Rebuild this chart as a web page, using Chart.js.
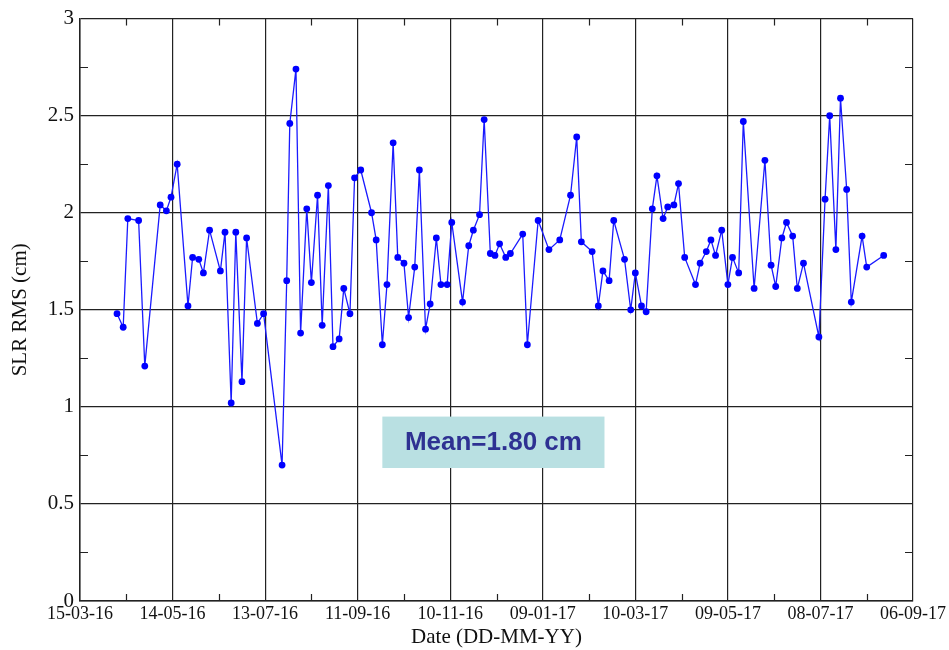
<!DOCTYPE html>
<html>
<head>
<meta charset="utf-8">
<title>SLR RMS</title>
<script src="https://cdn.jsdelivr.net/npm/chart.js@4.4.0/dist/chart.umd.min.js"></script>
<style>
    html, body { margin: 0; padding: 0; background: #fff; }
</style>
</head>
<body>
<canvas id="rmsChart" width="949" height="650"></canvas>
<script>
// Start of the time axis (15-03-16); x values are days after it
const START_DATE = new Date(2016, 2, 15);

// Days after START_DATE for each SLR solution
const dayOffsets = [
    24, 28, 31, 38, 42, 52, 56, 59, 63, 70, 73, 77, 80, 84, 91, 94, 98, 101, 105, 108,
    115, 119, 131, 134, 136, 140, 143, 147, 150, 154, 157, 161, 164, 168, 171, 175, 178, 182, 189, 192,
    196, 199, 203, 206, 210, 213, 217, 220, 224, 227, 231, 234, 238, 241, 248, 252, 255, 259, 262, 266,
    269, 272, 276, 279, 287, 290, 297, 304, 311, 318, 322, 325, 332, 336, 339, 343, 346, 353, 357, 360,
    364, 367, 371, 374, 378, 381, 385, 388, 392, 399, 402, 406, 409, 412, 416, 420, 423, 427, 430, 437,
    444, 448, 451, 455, 458, 462, 465, 469, 479, 483, 486, 490, 493, 497, 500, 507, 510, 521
];

// SLR RMS values (cm)
const rmsValues = [
    1.48, 1.41, 1.97, 1.96, 1.21, 2.04, 2.01, 2.08, 2.25, 1.52, 1.77, 1.76, 1.69, 1.91, 1.70, 1.90, 1.02, 1.90, 1.13, 1.87,
    1.43, 1.48, 0.70, 1.65, 2.46, 2.74, 1.38, 2.02, 1.64, 2.09, 1.42, 2.14, 1.31, 1.35, 1.61, 1.48, 2.18, 2.22, 2.00, 1.86,
    1.32, 1.63, 2.36, 1.77, 1.74, 1.46, 1.72, 2.22, 1.40, 1.53, 1.87, 1.63, 1.63, 1.95, 1.54, 1.83, 1.91, 1.99, 2.48, 1.79,
    1.78, 1.84, 1.77, 1.79, 1.89, 1.32, 1.96, 1.81, 1.86, 2.09, 2.39, 1.85, 1.80, 1.52, 1.70, 1.65, 1.96, 1.76, 1.50, 1.69,
    1.52, 1.49, 2.02, 2.19, 1.97, 2.03, 2.04, 2.15, 1.77, 1.63, 1.74, 1.80, 1.86, 1.78, 1.91, 1.63, 1.77, 1.69, 2.47, 1.61,
    2.27, 1.73, 1.62, 1.87, 1.95, 1.88, 1.61, 1.74, 1.36, 2.07, 2.50, 1.81, 2.59, 2.12, 1.54, 1.88, 1.72, 1.78
];

// Axis ranges and tick spacing
const xRange = [0, 540];
const xMajorStep = 60;
const xMinorStep = 30;
const yRange = [0, 3];
const yMajorStep = 0.5;
const yMinorStep = 0.25;

const meanLabel = 'Mean=1.80 cm';

const SERIF = '"Liberation Serif", "Times New Roman", serif';

function formatDay(offset) {
    const d = new Date(START_DATE.getFullYear(), START_DATE.getMonth(), START_DATE.getDate() + Math.round(offset));
    const dd = String(d.getDate()).padStart(2, '0');
    const mm = String(d.getMonth() + 1).padStart(2, '0');
    const yy = String(d.getFullYear()).slice(-2);
    return `${dd}-${mm}-${yy}`;
}

// Inward minor tick marks on all four sides of the plot frame
const minorTicks = {
    id: 'minorTicks',
    afterDraw(chart) {
        const { ctx, chartArea: a, scales: { x, y } } = chart;
        ctx.save();
        ctx.strokeStyle = '#222';
        ctx.lineWidth = 1.2;
        ctx.beginPath();
        for (let v = xRange[0] + xMinorStep; v < xRange[1]; v += xMajorStep) {
            const px = Math.round(x.getPixelForValue(v)) + 0.5;
            ctx.moveTo(px, a.bottom); ctx.lineTo(px, a.bottom - 7);
            ctx.moveTo(px, a.top); ctx.lineTo(px, a.top + 7);
        }
        for (let v = yRange[0] + yMinorStep; v < yRange[1]; v += yMajorStep) {
            const py = Math.round(y.getPixelForValue(v)) + 0.5;
            ctx.moveTo(a.left, py); ctx.lineTo(a.left + 8, py);
            ctx.moveTo(a.right, py); ctx.lineTo(a.right - 8, py);
        }
        ctx.stroke();
        ctx.restore();
    }
};

// Shaded box with the mean value
const meanBox = {
    id: 'meanBox',
    afterDraw(chart) {
        const { ctx, scales: { x, y } } = chart;
        const left = x.getPixelForValue(196);
        const right = x.getPixelForValue(340);
        const top = y.getPixelForValue(0.95);
        const bottom = y.getPixelForValue(0.685);
        ctx.save();
        ctx.fillStyle = '#b9e0e2';
        ctx.fillRect(left, top, right - left, bottom - top);
        ctx.fillStyle = '#2e3192';
        ctx.font = 'bold 26px "Liberation Sans", Arial, sans-serif';
        ctx.textAlign = 'center';
        ctx.textBaseline = 'middle';
        ctx.fillText(meanLabel, (left + right) / 2, (top + bottom) / 2 + 1);
        ctx.restore();
    }
};

const points = dayOffsets.map((d, i) => ({ x: d, y: rmsValues[i] }));

new Chart(document.getElementById('rmsChart').getContext('2d'), {
    type: 'scatter',
    data: {
        datasets: [{
            label: 'SLR RMS',
            data: points,
            showLine: true,
            borderColor: '#1a1aff',
            borderWidth: 1.3,
            backgroundColor: '#0000ff',
            pointBackgroundColor: '#0000ff',
            pointBorderWidth: 0,
            pointRadius: 3.4,
            tension: 0
        }]
    },
    options: {
        responsive: false,
        animation: false,
        layout: { padding: { top: 15, right: 36, left: 0, bottom: 0 } },
        plugins: {
            legend: { display: false },
            tooltip: { enabled: false }
        },
        scales: {
            x: {
                type: 'linear',
                min: xRange[0],
                max: xRange[1],
                afterFit(scale) { scale.height = 49; },
                ticks: {
                    stepSize: xMajorStep,
                    color: '#111',
                    font: { family: SERIF, size: 18 },
                    padding: 2,
                    maxRotation: 0,
                    autoSkip: false,
                    callback: v => formatDay(v)
                },
                grid: { color: '#222', lineWidth: 1.2, drawTicks: false },
                border: { color: '#222', width: 1.5 },
                title: {
                    display: true,
                    text: 'Date (DD-MM-YY)',
                    color: '#111',
                    font: { family: SERIF, size: 21 },
                    padding: { top: 0, bottom: 0 }
                }
            },
            y: {
                min: yRange[0],
                max: yRange[1],
                afterFit(scale) { scale.width = 80; },
                ticks: {
                    stepSize: yMajorStep,
                    color: '#111',
                    font: { family: SERIF, size: 21 },
                    padding: 6,
                    callback: v => String(v)
                },
                grid: { color: '#222', lineWidth: 1.2, drawTicks: false },
                border: { color: '#222', width: 1.5 },
                title: {
                    display: true,
                    text: 'SLR RMS (cm)',
                    color: '#111',
                    font: { family: SERIF, size: 21 },
                    padding: { top: 8, bottom: 0 }
                }
            }
        }
    },
    plugins: [minorTicks, meanBox]
});
</script>
</body>
</html>
